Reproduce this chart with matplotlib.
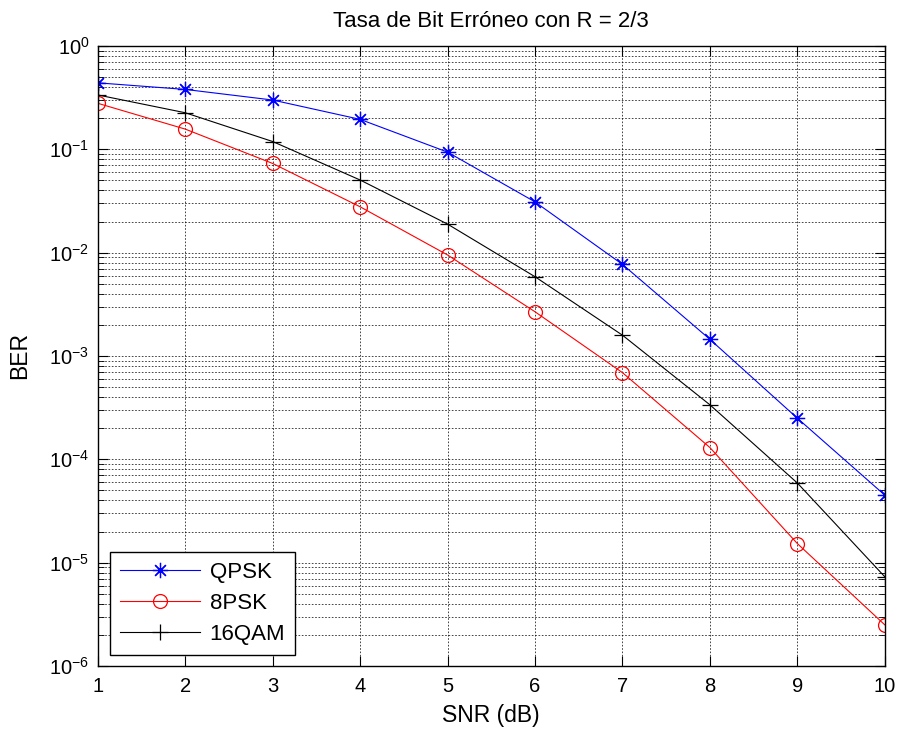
import numpy as np
import matplotlib
matplotlib.use("Agg")
import matplotlib.pyplot as plt
from matplotlib.ticker import LogLocator, FixedLocator, NullFormatter

matplotlib.rcParams.update(
    {
        'font.family': ['Liberation Sans', 'DejaVu Sans'],
        'mathtext.fontset': 'custom',
        'mathtext.rm': 'Liberation Sans',
        'mathtext.it': 'Liberation Sans:italic',
        'mathtext.bf': 'Liberation Sans:bold',
        'axes.unicode_minus': False,
    }
)

snr = [1, 2, 3, 4, 5, 6, 7, 8, 9, 10]
ber_qpsk = [0.44, 0.38, 0.30, 0.195, 0.094, 0.031, 7.7e-3, 1.45e-3, 2.5e-4, 4.5e-5]
ber_8psk = [0.279, 0.157, 0.073, 0.0278, 9.5e-3, 2.68e-3, 6.9e-4, 1.30e-4, 1.53e-5, 2.5e-6]
ber_16qam = [0.336, 0.226, 0.119, 0.0505, 0.0189, 5.85e-3, 1.59e-3, 3.37e-4, 5.9e-5, 7.3e-6]

fig = plt.figure(figsize=(8.99, 7.30), dpi=100)
ax = fig.add_axes([0.1087, 0.0877, 0.8755, 0.8493])

ax.semilogy(snr, ber_qpsk, '-', marker=(8, 2, 0), color='blue', lw=0.8, ms=11, mew=0.9, label='QPSK')
ax.semilogy(snr, ber_8psk, '-o', color='red', lw=0.8, ms=10, mew=0.9, mfc='none', label='8PSK')
ax.semilogy(snr, ber_16qam, '-+', color='black', lw=0.8, ms=11, mew=0.9, label='16QAM')

ax.set_xlim(1, 10)
ax.set_ylim(1e-6, 1e0)
ax.xaxis.set_major_locator(FixedLocator(range(1, 11)))
ax.yaxis.set_major_locator(FixedLocator([1e-6, 1e-5, 1e-4, 1e-3, 1e-2, 1e-1, 1e0]))
ax.yaxis.set_minor_locator(LogLocator(base=10, subs=np.arange(2, 10), numticks=20))
ax.yaxis.set_minor_formatter(NullFormatter())

ax.grid(True, which='major', linestyle=(0, (2, 2)), color='black', lw=0.6, alpha=0.85)
ax.grid(True, which='minor', axis='y', linestyle=(0, (2, 2)), color='black', lw=0.6, alpha=0.85)

ax.tick_params(which='both', direction='in', top=True, right=True, labelsize=14.5)
ax.tick_params(axis='x', which='major', pad=8)
ax.tick_params(axis='y', which='major', pad=6)
ax.tick_params(which='major', length=7, width=0.8)
ax.tick_params(which='minor', length=4, width=0.6)
for s in ax.spines.values():
    s.set_linewidth(1.0)

ax.set_title('Tasa de Bit Erróneo con R = 2/3', fontsize=16, pad=14)
ax.set_xlabel('SNR (dB)', fontsize=16.5)
ax.set_ylabel('BER', fontsize=16.5)
ax.xaxis.set_label_coords(0.5, -0.061)
ax.yaxis.set_label_coords(-0.084, 0.5)

leg = ax.legend(loc='lower left', bbox_to_anchor=(0.0152, 0.0177), borderaxespad=0,
                fontsize=16, numpoints=1, handlelength=3.6, handletextpad=0.45,
                fancybox=False, framealpha=1, edgecolor='black',
                borderpad=0.45, labelspacing=0.45)
leg.get_frame().set_linewidth(1.0)

fig.savefig('out.png', dpi=100)
